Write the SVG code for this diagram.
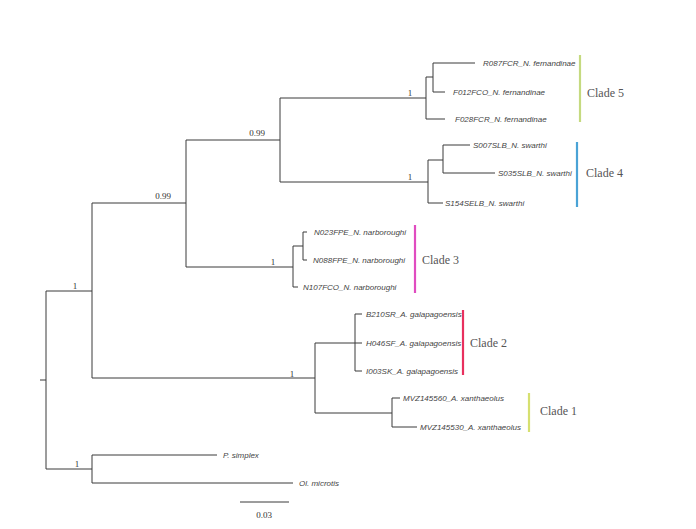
<svg xmlns="http://www.w3.org/2000/svg" width="696" height="529" viewBox="0 0 696 529">
<style>
.br{fill:none;stroke:#3a3a3a;stroke-width:1}
.tip{font-family:"Liberation Sans",Arial,sans-serif;font-style:italic;font-size:8px;fill:#444}
.sup{font-family:"Liberation Serif","Times New Roman",serif;font-size:9px;fill:#333}
.cl{font-family:"Liberation Serif","Times New Roman",serif;font-size:12px;fill:#555}
.bar{stroke-width:2.2;fill:none}
</style>
<rect width="696" height="529" fill="#fff"/>
<g id="connectors">
<path class="br" d="M40,380H46M46,291V469M46,291H92M92,203V378M92,203H186M92,378H315
M186,140V267M186,140H280M186,267H293
M280,98V182M280,98H426M280,182H428
M426,77V119M426,77H433M433,63V92M433,63H475M433,92H445M426,119H445
M428,160V203M428,160H443M443,145V173M443,145H470M443,173H495M428,203H443
M293,246V287M293,246H303M303,232V260M303,232H307M303,260H307M293,287H298
M315,343V413M315,343H355M355,314V371M355,314H362M355,343H362M355,371H362
M315,413H392M392,398V427M392,398H400M392,427H417
M46,469H92M92,455V483M92,455H217M92,483H293"/>
</g>
<g id="supports">
<text class="sup" x="75" y="289" text-anchor="middle">1</text>
<text class="sup" x="163" y="199" text-anchor="middle">0.99</text>
<text class="sup" x="257" y="136" text-anchor="middle">0.99</text>
<text class="sup" x="273" y="265" text-anchor="middle">1</text>
<text class="sup" x="410" y="96" text-anchor="middle">1</text>
<text class="sup" x="410" y="180" text-anchor="middle">1</text>
<text class="sup" x="292" y="377" text-anchor="middle">1</text>
<text class="sup" x="77" y="467" text-anchor="middle">1</text>
</g>
<g id="tip-R087FCR"><text class="tip" x="483" y="66">R087FCR_N. fernandinae</text></g>
<g id="tip-F012FCO"><text class="tip" x="453" y="95">F012FCO_N. fernandinae</text></g>
<g id="tip-F028FCR"><text class="tip" x="455" y="122">F028FCR_N. fernandinae</text></g>
<g id="tip-S007SLB"><text class="tip" x="473" y="148">S007SLB_N. swarthi</text></g>
<g id="tip-S035SLB"><text class="tip" x="498" y="176">S035SLB_N. swarthi</text></g>
<g id="tip-S154SELB"><text class="tip" x="445" y="206">S154SELB_N. swarthi</text></g>
<g id="tip-N023FPE"><text class="tip" x="314" y="235">N023FPE_N. narboroughi</text></g>
<g id="tip-N088FPE"><text class="tip" x="313" y="263">N088FPE_N. narboroughi</text></g>
<g id="tip-N107FCO"><text class="tip" x="303" y="290">N107FCO_N. narboroughi</text></g>
<g id="tip-B210SR"><text class="tip" x="366" y="317">B210SR_A. galapagoensis</text></g>
<g id="tip-H046SF"><text class="tip" x="366" y="346">H046SF_A. galapagoensis</text></g>
<g id="tip-I003SK"><text class="tip" x="366" y="374">I003SK_A. galapagoensis</text></g>
<g id="tip-MVZ145560"><text class="tip" x="403" y="401">MVZ145560_A. xanthaeolus</text></g>
<g id="tip-MVZ145530"><text class="tip" x="420" y="430">MVZ145530_A. xanthaeolus</text></g>
<g id="tip-Psimplex"><text class="tip" x="223" y="458">P. simplex</text></g>
<g id="tip-Olmicrotis"><text class="tip" x="299" y="486">Ol. microtis</text></g>
<g id="clade5"><line class="bar" x1="580" y1="55" x2="580" y2="122" stroke="#c5da80"/><text class="cl" x="587" y="97">Clade 5</text></g>
<g id="clade4"><line class="bar" x1="577" y1="142" x2="577" y2="207" stroke="#4aa3d6"/><text class="cl" x="586" y="177">Clade 4</text></g>
<g id="clade3"><line class="bar" x1="415" y1="225" x2="415" y2="293" stroke="#e04cc0"/><text class="cl" x="422" y="264">Clade 3</text></g>
<g id="clade2"><line class="bar" x1="463" y1="310" x2="463" y2="375" stroke="#e8305e"/><text class="cl" x="470" y="347">Clade 2</text></g>
<g id="clade1"><line class="bar" x1="529" y1="393" x2="529" y2="432" stroke="#d6e070"/><text class="cl" x="540" y="415">Clade 1</text></g>
<g id="scale">
<path class="br" d="M240,502H289"/>
<text class="sup" x="264" y="518" text-anchor="middle" font-size="8">0.03</text>
</g>
</svg>
